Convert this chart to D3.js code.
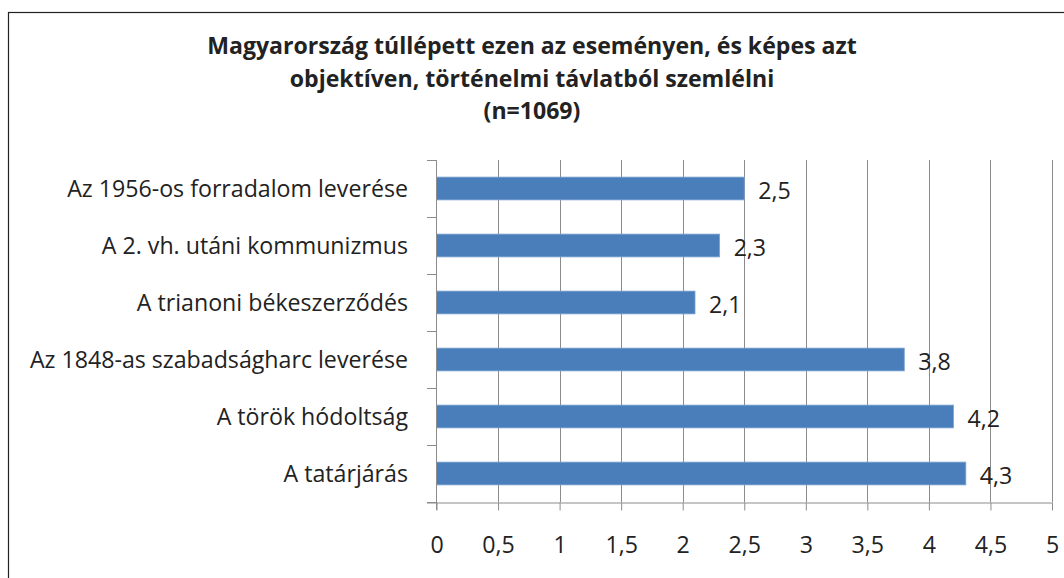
<!DOCTYPE html>
<html><head><meta charset="utf-8">
<script src="https://cdn.jsdelivr.net/npm/d3@7/dist/d3.min.js"></script>
<style>
html,body{margin:0;padding:0;background:#fff;}
svg{display:block;}
text{font-family:"Open Sans",Lato,sans-serif;fill:#222;}
</style></head><body>
<svg id="c" width="1064" height="578"></svg>
<script>
const titleLines = ["Magyarország túllépett ezen az eseményen, és képes azt","objektíven, történelmi távlatból szemlélni","(n=1069)"];
const categories = ["Az 1956-os forradalom leverése","A 2. vh. utáni kommunizmus","A trianoni békeszerződés","Az 1848-as szabadságharc leverése","A török hódoltság","A tatárjárás"];
const values = [2.5, 2.3, 2.1, 3.8, 4.2, 4.3];
const xTicks = [0,0.5,1,1.5,2,2.5,3,3.5,4,4.5,5];

const svg = d3.select("#c");
svg.append("rect").attr("x",8.5).attr("y",12.5).attr("width",1100).attr("height",600)
  .attr("fill","#fff").attr("stroke","#222").attr("stroke-width",1.2);

// font size that makes a string reach a target width
function fitSize(str, target, weight){
  const probe = svg.append("text").attr("font-size",20).attr("font-weight",weight||"normal").text(str);
  const w = probe.node().getComputedTextLength();
  probe.remove();
  return 20 * target / w;
}

const titleFs = fitSize(titleLines[0], 650, "bold");
const title = svg.append("text").attr("text-anchor","middle").attr("font-weight","bold").attr("font-size",titleFs);
titleLines.forEach((t,i)=>title.append("tspan").attr("x",532).attr("y",54+i*32.5).text(t));

const x = d3.scaleLinear().domain([0,5]).range([436.5,1052]);
const y = d3.scaleBand().domain(categories).range([160,502]).paddingInner(0.6).paddingOuter(0.3);
const band = d3.scaleBand().domain(categories).range([160,502]);

// gridlines
svg.append("g").selectAll("line").data(xTicks.slice(1)).join("line")
  .attr("x1",d=>Math.round(x(d))+0.5).attr("x2",d=>Math.round(x(d))+0.5)
  .attr("y1",160).attr("y2",502).attr("stroke","#8c8c8c").attr("stroke-width",1);

// bars
svg.append("g").selectAll("rect").data(categories).join("rect")
  .attr("x",x(0)).attr("y",(d)=>y(d)).attr("height",y.bandwidth())
  .attr("width",(d,i)=>x(values[i])-x(0))
  .attr("fill","#4a7ebb").attr("stroke","#7da3d1").attr("stroke-width",0.8);

// category labels
const labFs = fitSize(categories[0], 341);
const gy = svg.append("g");
gy.selectAll("text").data(categories).join("text")
  .attr("x",408).attr("y",d=>band(d)+band.bandwidth()/2).attr("dy","0.35em")
  .attr("text-anchor","end").attr("font-size",labFs).text(d=>d);

// x axis
const xAxis = d3.axisBottom(x).tickValues(xTicks).tickSize(8).tickPadding(26)
  .tickFormat(d=>String(d).replace(".",","));
const gx = svg.append("g").attr("transform","translate(0,502.5)").call(xAxis);
gx.select(".domain").attr("d","M427,0.5H1052").attr("stroke","#8c8c8c");
gx.selectAll(".tick line").attr("stroke","#8c8c8c");
gx.selectAll(".tick text").attr("font-size",labFs).attr("fill","#222").attr("font-family","'Open Sans',Lato,sans-serif");

// y axis
const yBounds = categories.map(c=>band(c)).concat([502]);
gy.append("line").attr("x1",436.5).attr("x2",436.5).attr("y1",160).attr("y2",510).attr("stroke","#8c8c8c");
gy.selectAll("line.t").data(yBounds).join("line").attr("class","t")
  .attr("x1",427).attr("x2",436.5).attr("y1",d=>Math.round(d)+0.5).attr("y2",d=>Math.round(d)+0.5).attr("stroke","#8c8c8c");

// value labels
svg.append("g").selectAll("text").data(categories).join("text")
  .attr("x",(d,i)=>x(values[i])+14).attr("y",d=>band(d)+band.bandwidth()/2+2).attr("dy","0.35em")
  .attr("font-size",labFs).text((d,i)=>String(values[i]).replace(".",","));
</script></body></html>
